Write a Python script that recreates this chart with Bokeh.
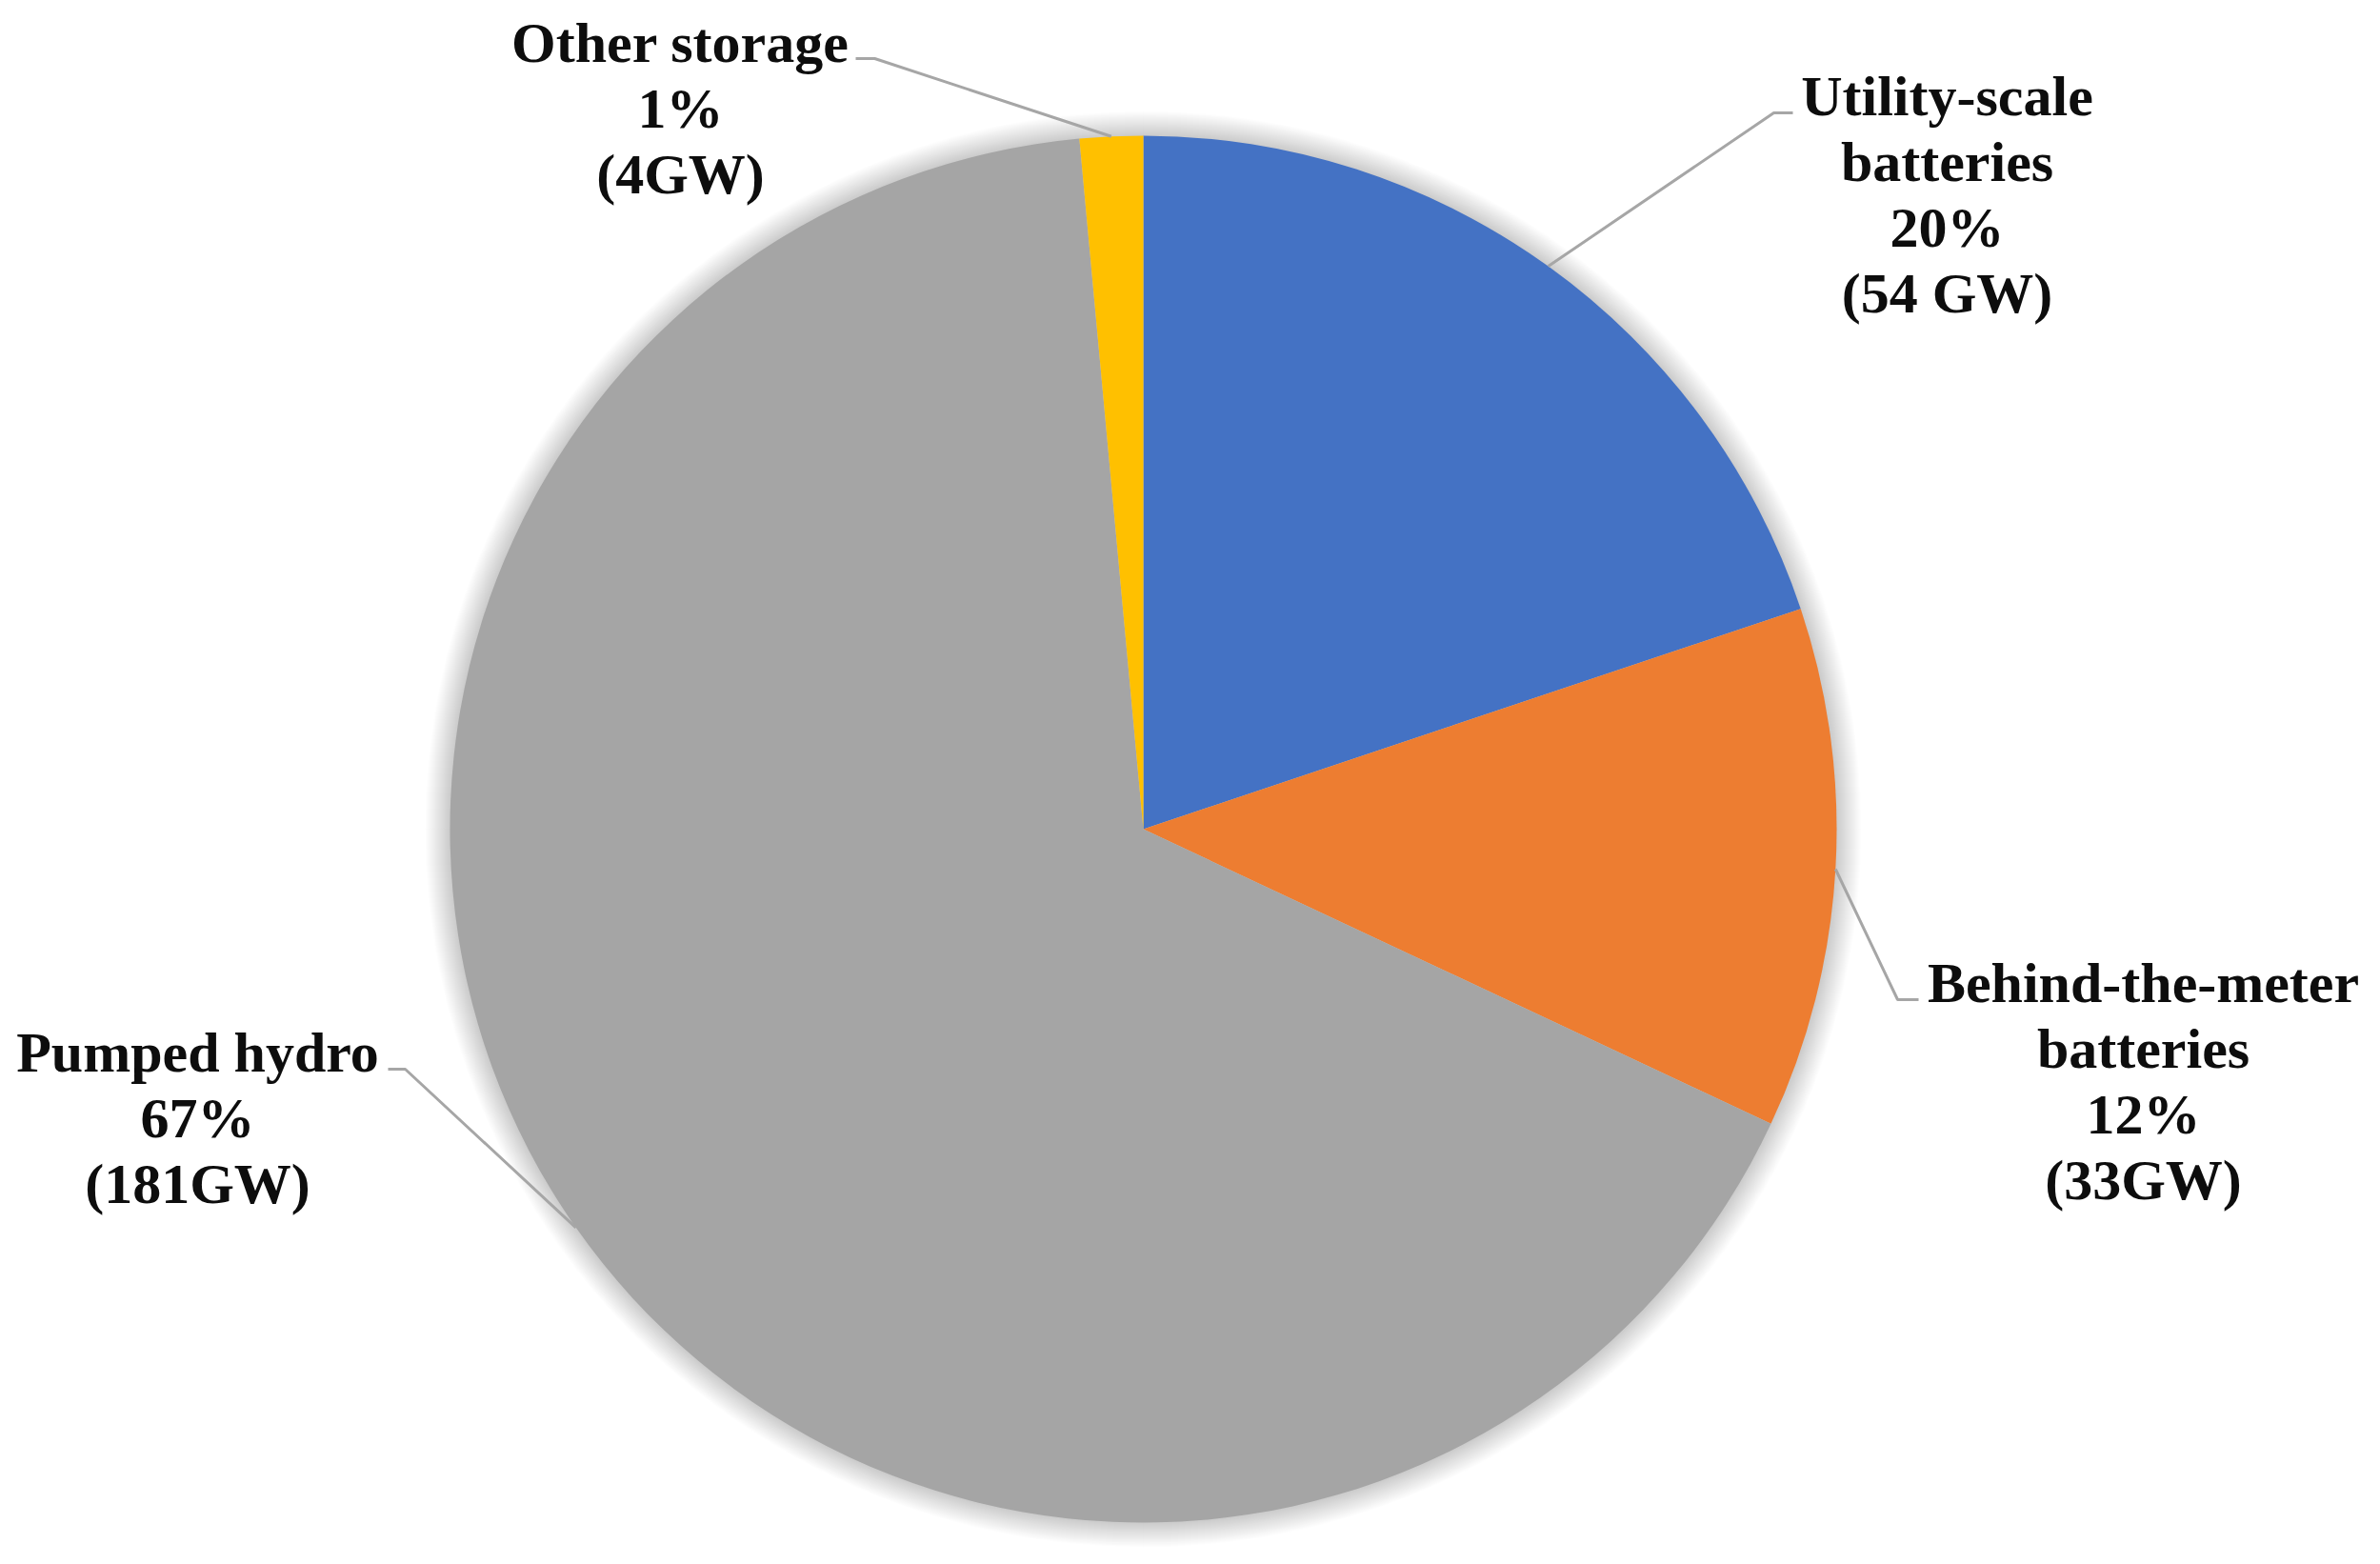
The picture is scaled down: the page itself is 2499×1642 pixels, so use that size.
import math
from bokeh.plotting import figure
from bokeh.models import Range1d
from bokeh.core.properties import value
from bokeh.embed import file_html
from bokeh.resources import INLINE

# ---- data ----
categories = ["Utility-scale batteries", "Behind-the-meter batteries", "Pumped hydro", "Other storage"]
name_lines = [["Utility-scale", "batteries"], ["Behind-the-meter", "batteries"], ["Pumped hydro"], ["Other storage"]]
capacity_gw = [54, 33, 181, 4]
percent_labels = ["20%", "12%", "67%", "1%"]
gw_labels = ["(54 GW)", "(33GW)", "(181GW)", "(4GW)"]
colors = ["#4472C4", "#ED7D31", "#A5A5A5", "#FFC000"]

# ---- layout (reference pixel coordinates) ----
W, H = 2483, 1626
REF_H = 1642
def fy(y):
    return REF_H - y

CX, CY, R = 1200, 870, 728
FONT_PX = 60
LINE_GAP = 69.3
TEXT_SHIFT = -19
label_anchor = [(2044, 119), (2250, 1050), (207, 1123), (714, 63)]
elbows = [[(1862, 118), (1882, 118)],
          [(1992, 1049), (2014, 1049)],
          [(425, 1122), (407, 1122)],
          [(918, 61), (898, 61)]]

p = figure(width=W, height=H, x_range=Range1d(0, W), y_range=Range1d(REF_H - H, REF_H),
           output_backend="svg", toolbar_location=None, min_border=0)
p.axis.visible = False
p.grid.visible = False
p.outline_line_color = None
p.background_fill_color = "white"
p.border_fill_color = "white"

# soft shadow around pie
for k in range(1, 27):
    p.circle(x=[CX], y=[fy(CY)], radius=R + k, fill_color="black", fill_alpha=0.009, line_color=None)

total = sum(capacity_gw)
cum = 0.0
starts, ends, mids = [], [], []
for v in capacity_gw:
    a0 = math.pi / 2 - 2 * math.pi * cum / total
    cum += v
    a1 = math.pi / 2 - 2 * math.pi * cum / total
    starts.append(a0)
    ends.append(a1)
    mids.append((a0 + a1) / 2)

p.wedge(x=[CX] * 4, y=[fy(CY)] * 4, radius=R, start_angle=starts, end_angle=ends,
        direction="clock", fill_color=colors, line_color=None)

# leader lines
for i in range(4):
    sx = CX + R * math.cos(mids[i])
    sy = fy(CY) + R * math.sin(mids[i])
    xs = [sx] + [e[0] for e in elbows[i]]
    ys = [sy] + [fy(e[1]) for e in elbows[i]]
    p.line(xs, ys, line_color="#A6A6A6", line_width=3)

# labels
tx, ty, tt = [], [], []
for i in range(4):
    lines = name_lines[i] + [percent_labels[i], gw_labels[i]]
    ax, ay = label_anchor[i]
    for j, t in enumerate(lines):
        tx.append(ax)
        ty.append(fy(ay + TEXT_SHIFT + j * LINE_GAP))
        tt.append(t)
p.text(x=tx, y=ty, text=tt, text_font=value("Liberation Serif"), text_font_style="bold",
       text_font_size=f"{FONT_PX}px", text_align="center", text_baseline="alphabetic",
       text_color="#0d0d0d")

open("out.html", "w").write(file_html(p, INLINE))
